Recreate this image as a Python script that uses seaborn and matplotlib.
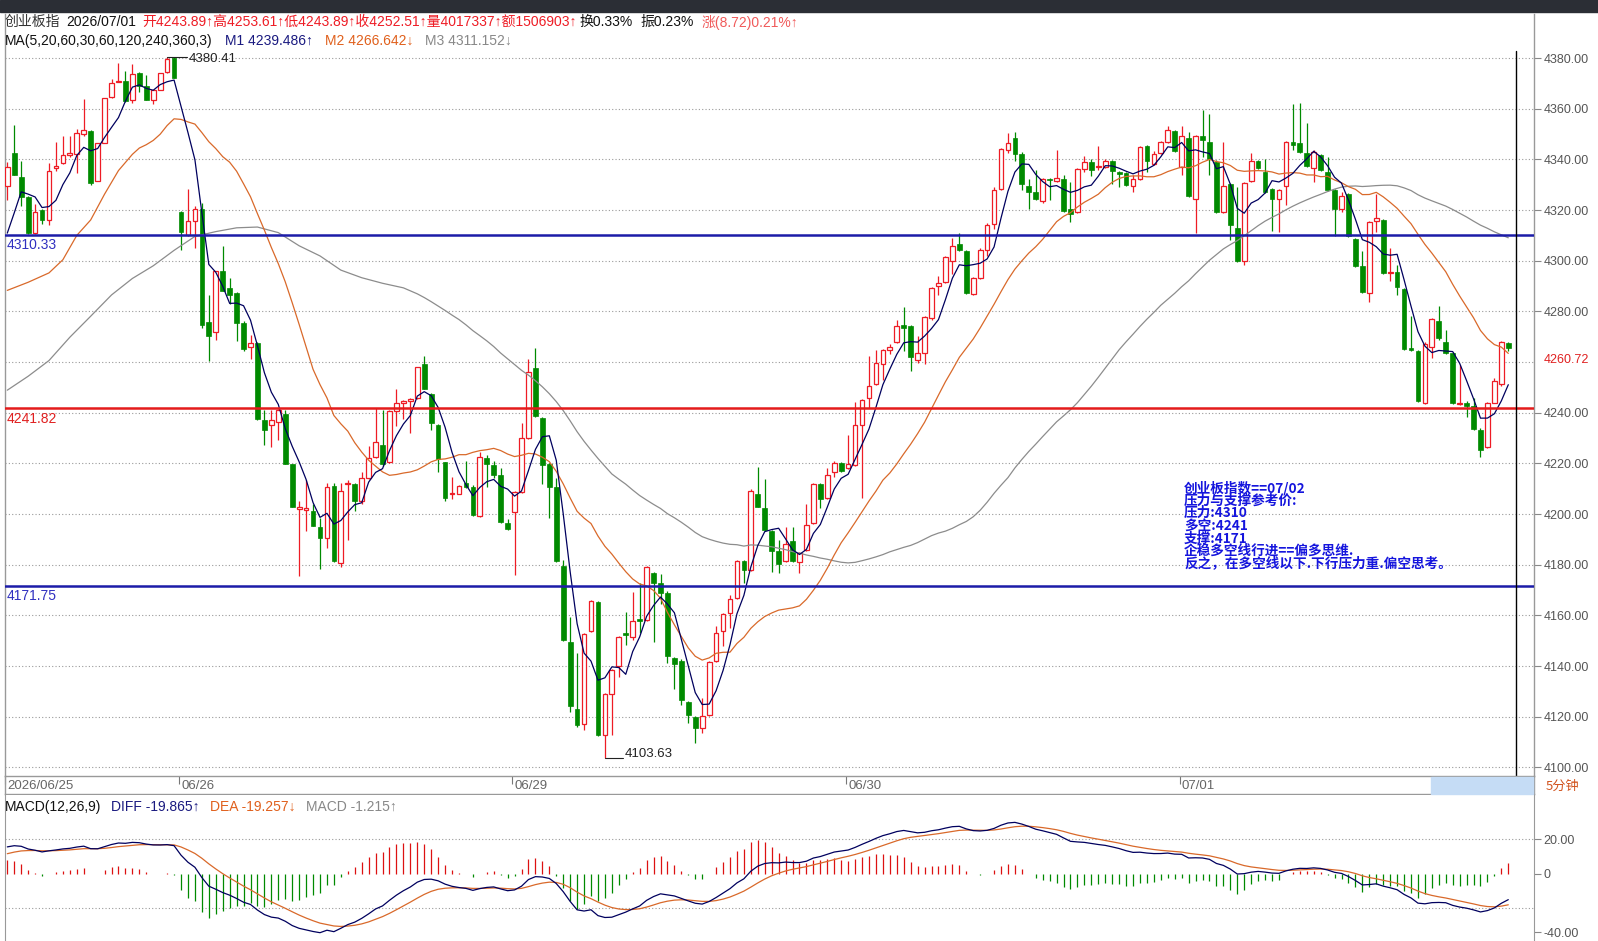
import numpy as np
import pandas as pd
import matplotlib
matplotlib.use("Agg")
import matplotlib.pyplot as plt
from matplotlib.patches import Rectangle
import seaborn as sns

sns.set_style("white")
plt.rcParams["font.family"] = ["Liberation Sans", "Noto Sans CJK SC", "DejaVu Sans"]
plt.rcParams["axes.unicode_minus"] = False

# ---- 5 minute bars, 06/25 (last 25 bars) .. 07/01 ----
opens = [
    # 06/25
    4329.4, 4342.4, 4333.1, 4325.0, 4310.9, 4320.2, 4316.1, 4336.7, 4338.5, 4341.7,
    4342.0, 4350.0, 4351.3, 4331.3, 4346.3, 4364.8, 4370.4, 4371.1, 4363.3, 4374.1,
    4368.9, 4363.3, 4367.4, 4374.4, 4380.0,
    # 06/26
    4319.3, 4310.0, 4315.6, 4320.4, 4275.7, 4271.7, 4296.1, 4289.3, 4287.4, 4275.4,
    4266.1, 4267.6, 4237.0, 4235.2, 4236.5, 4239.6, 4219.8, 4201.9, 4201.7, 4201.3,
    4194.8, 4190.7, 4211.1, 4180.6, 4212.0, 4212.0, 4205.0, 4214.3, 4222.6, 4227.2,
    4220.7, 4240.6, 4243.9, 4244.8, 4245.7, 4259.3, 4247.2, 4235.2, 4220.4, 4207.8,
    4208.1, 4212.4, 4210.6, 4199.4, 4222.0, 4219.3, 4215.6, 4196.3,
    # 06/29
    4200.9, 4208.7, 4230.0, 4257.8, 4237.8, 4219.8, 4210.6, 4179.6, 4149.4, 4123.0,
    4117.0, 4153.7, 4165.2, 4112.8, 4129.1, 4140.2, 4153.1, 4151.3, 4158.7, 4158.1,
    4176.9, 4172.6, 4168.9, 4143.0, 4142.0, 4125.9, 4119.8, 4115.6, 4120.7, 4142.0,
    4153.7, 4161.1, 4167.0, 4181.5, 4178.1, 4208.1, 4202.2, 4193.3, 4185.6, 4181.3,
    4189.3, 4180.9, 4185.9, 4196.3, 4211.9, 4206.3, 4216.7, 4220.2,
    # 06/30
    4218.0, 4219.3, 4235.2, 4245.7, 4251.3, 4259.3, 4264.8, 4268.0, 4274.8, 4274.1,
    4260.9, 4263.7, 4277.2, 4290.0, 4291.5, 4299.8, 4306.5, 4303.7, 4286.9, 4293.3,
    4304.4, 4314.6, 4328.5, 4343.9, 4348.5, 4342.0, 4329.6, 4327.2, 4323.5, 4332.4,
    4331.5, 4332.2, 4320.4, 4319.3, 4336.1, 4338.9, 4337.0, 4337.0, 4339.3, 4335.0,
    4334.6, 4329.6, 4332.2, 4345.2, 4338.3, 4342.4, 4347.0, 4351.3,
    # 07/01
    4337.0, 4348.5, 4324.4, 4349.1, 4347.0, 4338.9, 4319.3, 4330.4, 4312.8, 4300.0,
    4331.3, 4339.3, 4335.0, 4328.5, 4324.4, 4329.4, 4347.0, 4346.3, 4342.6, 4336.5,
    4341.7, 4335.0, 4328.1, 4320.4, 4326.3, 4308.7, 4298.1, 4287.4, 4315.6, 4316.1,
    4295.2, 4295.7, 4288.7, 4265.6, 4264.3, 4243.9, 4266.1, 4276.3, 4268.0, 4263.7,
    4243.3, 4243.9, 4242.6, 4233.3, 4226.3, 4243.89, 4251.3, 4267.4,
]
highs = [
    4338.9, 4353.5, 4339.3, 4325.4, 4322.2, 4320.4, 4338.7, 4346.7, 4349.1, 4349.1,
    4352.2, 4363.9, 4351.5, 4346.3, 4364.4, 4371.7, 4378.1, 4374.8, 4377.8, 4374.5,
    4373.5, 4367.4, 4374.1, 4380.41, 4380.3,
    4319.8, 4328.5, 4321.7, 4322.6, 4286.5, 4296.1, 4305.9, 4293.0, 4287.8, 4276.3,
    4270.7, 4268.0, 4241.1, 4241.1, 4241.5, 4241.1, 4219.8, 4205.0, 4213.3, 4204.1,
    4198.5, 4212.4, 4212.4, 4212.4, 4213.3, 4212.4, 4216.7, 4226.7, 4241.7, 4241.1,
    4241.1, 4249.4, 4245.2, 4245.7, 4258.1, 4262.4, 4247.6, 4235.6, 4220.7, 4214.8,
    4211.5, 4221.1, 4211.5, 4224.4, 4223.5, 4221.1, 4218.0, 4198.1,
    4209.3, 4235.9, 4261.1, 4265.6, 4238.3, 4220.2, 4214.3, 4181.9, 4159.3, 4145.0,
    4153.1, 4166.1, 4165.6, 4129.5, 4138.7, 4151.7, 4161.5, 4169.3, 4172.6, 4179.5,
    4177.3, 4176.3, 4169.8, 4143.4, 4142.6, 4126.3, 4120.2, 4127.2, 4141.9, 4155.9,
    4161.1, 4168.0, 4181.9, 4181.9, 4209.7, 4218.5, 4213.7, 4193.7, 4189.6, 4194.8,
    4194.8, 4185.0, 4204.1, 4212.3, 4212.3, 4218.0, 4221.1, 4220.6,
    4231.3, 4244.4, 4245.6, 4262.4, 4264.8, 4265.0, 4267.0, 4276.7, 4281.9, 4274.8,
    4270.4, 4278.1, 4289.7, 4293.9, 4301.7, 4309.1, 4310.9, 4304.4, 4293.7, 4305.0,
    4314.7, 4329.1, 4344.7, 4350.4, 4350.7, 4343.0, 4332.2, 4335.9, 4332.6, 4332.8,
    4343.9, 4333.7, 4330.9, 4336.5, 4341.5, 4340.2, 4345.2, 4340.2, 4339.7, 4335.4,
    4335.0, 4333.7, 4345.2, 4345.7, 4343.3, 4347.4, 4353.1, 4351.7,
    4353.1, 4350.7, 4349.5, 4359.6, 4357.8, 4339.6, 4346.7, 4330.8, 4329.1, 4331.0,
    4342.6, 4339.7, 4340.2, 4328.9, 4328.5, 4347.4, 4361.9, 4362.4, 4354.4, 4343.9,
    4342.1, 4341.1, 4328.5, 4327.2, 4326.7, 4309.1, 4303.7, 4315.6, 4326.3, 4316.5,
    4305.0, 4298.5, 4289.3, 4278.1, 4264.7, 4268.0, 4277.2, 4282.2, 4272.6, 4264.1,
    4258.7, 4244.8, 4245.7, 4234.1, 4244.4, 4253.61, 4268.5, 4268.0,
]
lows = [
    4323.9, 4333.7, 4321.7, 4310.6, 4310.6, 4314.6, 4314.3, 4335.6, 4338.2, 4341.1,
    4334.6, 4349.4, 4330.0, 4331.3, 4346.3, 4364.3, 4370.4, 4362.8, 4362.4, 4366.7,
    4363.3, 4361.9, 4367.4, 4374.0, 4372.2,
    4304.1, 4309.7, 4305.0, 4273.5, 4260.4, 4268.9, 4288.0, 4282.8, 4268.5, 4264.3,
    4261.1, 4237.0, 4227.2, 4226.3, 4229.1, 4219.8, 4202.6, 4175.4, 4193.3, 4195.4,
    4178.5, 4186.5, 4180.9, 4179.1, 4189.6, 4201.3, 4204.1, 4213.9, 4222.2, 4218.9,
    4220.2, 4234.6, 4237.4, 4231.9, 4245.4, 4249.4, 4233.3, 4216.7, 4205.0, 4205.9,
    4207.8, 4210.1, 4199.4, 4199.0, 4210.6, 4214.3, 4196.3, 4193.9,
    4175.9, 4208.3, 4229.6, 4238.3, 4211.9, 4198.5, 4180.9, 4150.0, 4121.7, 4116.1,
    4114.8, 4153.3, 4112.4, 4103.63, 4112.8, 4135.6, 4148.5, 4150.4, 4153.1, 4157.7,
    4149.4, 4164.3, 4141.1, 4130.9, 4124.8, 4117.6, 4109.6, 4113.7, 4120.3, 4141.6,
    4148.1, 4155.0, 4166.6, 4172.8, 4177.7, 4202.8, 4193.5, 4177.2, 4176.7, 4180.9,
    4180.9, 4176.9, 4185.5, 4196.1, 4202.2, 4205.9, 4214.8, 4216.6,
    4217.6, 4218.9, 4206.3, 4242.0, 4250.9, 4253.1, 4263.3, 4267.6, 4264.3, 4256.3,
    4259.6, 4259.1, 4276.8, 4286.5, 4291.1, 4294.8, 4304.0, 4287.0, 4286.5, 4292.9,
    4301.9, 4312.4, 4328.1, 4342.4, 4339.3, 4327.8, 4320.4, 4324.0, 4322.6, 4324.1,
    4330.9, 4319.3, 4315.2, 4318.9, 4335.0, 4333.3, 4335.9, 4336.6, 4330.4, 4329.1,
    4329.6, 4327.0, 4331.8, 4335.2, 4337.8, 4342.0, 4346.6, 4342.9,
    4333.7, 4325.0, 4310.9, 4341.1, 4333.7, 4318.9, 4318.9, 4308.1, 4299.4, 4298.5,
    4330.9, 4336.1, 4326.8, 4311.9, 4311.5, 4322.0, 4343.9, 4342.6, 4337.0, 4330.9,
    4335.5, 4327.7, 4309.6, 4319.3, 4309.2, 4297.7, 4287.4, 4283.7, 4311.5, 4294.8,
    4292.0, 4286.5, 4264.8, 4264.4, 4244.3, 4243.5, 4261.5, 4268.9, 4263.3, 4243.3,
    4243.0, 4238.3, 4233.3, 4222.6, 4225.9, 4243.89, 4250.7, 4264.3,
]
closes = [
    4337.0, 4333.7, 4325.0, 4310.9, 4319.3, 4316.1, 4335.6, 4337.4, 4341.9, 4342.4,
    4350.4, 4351.7, 4330.6, 4346.3, 4364.4, 4370.2, 4371.1, 4363.0, 4373.9, 4368.9,
    4363.3, 4367.4, 4374.1, 4379.6, 4372.2,
    4311.5, 4315.6, 4320.4, 4274.8, 4270.4, 4296.1, 4288.0, 4286.5, 4275.4, 4265.2,
    4267.6, 4237.4, 4233.3, 4237.0, 4241.1, 4219.8, 4202.6, 4202.6, 4202.2, 4195.4,
    4190.7, 4210.6, 4181.3, 4209.3, 4212.4, 4205.0, 4214.3, 4222.0, 4228.5, 4219.8,
    4240.6, 4243.9, 4244.8, 4245.4, 4258.1, 4249.4, 4235.9, 4221.7, 4206.3, 4208.5,
    4211.1, 4210.6, 4199.8, 4222.6, 4219.8, 4215.6, 4197.0, 4194.3,
    4208.7, 4230.0, 4255.9, 4238.7, 4219.3, 4210.6, 4181.5, 4150.4, 4124.4, 4116.7,
    4152.6, 4165.6, 4112.8, 4129.1, 4138.3, 4151.3, 4152.2, 4157.8, 4157.8, 4179.1,
    4172.6, 4168.9, 4143.9, 4140.7, 4126.7, 4120.7, 4115.6, 4120.4, 4141.5, 4153.1,
    4160.6, 4166.5, 4181.5, 4177.8, 4209.3, 4202.8, 4193.9, 4185.6, 4180.4, 4188.3,
    4181.3, 4184.6, 4195.7, 4211.9, 4205.9, 4215.6, 4220.2, 4217.0,
    4219.8, 4235.2, 4245.2, 4250.7, 4259.6, 4264.6, 4265.9, 4274.4, 4273.5, 4261.9,
    4263.7, 4277.8, 4289.3, 4291.1, 4301.3, 4305.9, 4304.4, 4287.4, 4293.3, 4304.1,
    4314.3, 4328.1, 4344.3, 4346.3, 4342.0, 4330.4, 4327.2, 4324.4, 4332.2, 4331.9,
    4332.6, 4319.8, 4318.5, 4336.1, 4338.9, 4335.9, 4337.4, 4339.3, 4335.6, 4334.4,
    4330.0, 4332.2, 4344.8, 4339.3, 4342.0, 4347.0, 4351.7, 4343.3,
    4349.4, 4325.4, 4349.1, 4347.6, 4340.2, 4319.3, 4329.6, 4314.3, 4300.0, 4330.6,
    4339.3, 4336.5, 4327.2, 4324.4, 4328.1, 4347.0, 4345.7, 4343.0, 4337.4, 4343.0,
    4335.9, 4328.1, 4320.4, 4325.7, 4309.6, 4298.1, 4287.8, 4315.2, 4317.0, 4295.2,
    4295.7, 4289.6, 4265.2, 4264.8, 4244.8, 4267.0, 4276.9, 4269.4, 4263.7, 4243.7,
    4243.9, 4242.6, 4233.7, 4225.4, 4243.79, 4252.51, 4268.0, 4265.6,
]

# MA values at the left edge (history before the first visible bar)
ma5_head_x = [0, 1, 2, 3]
ma5_head = [4310.9, 4318.9, 4327.2, 4326.3]
ma20_head_x = [0, 3, 6, 8, 10, 12, 14, 16, 18]
ma20_head = [4288.3, 4291.5, 4295.2, 4300.4, 4310.0, 4316.1, 4326.3, 4335.6, 4342.0]
ma60_head_x = [0, 3, 6, 9, 12, 15, 18, 21, 24, 27, 30, 33, 36, 39, 42, 45, 48, 51, 54, 57]
ma60_head = [4248.9, 4254.4, 4260.6, 4269.8, 4278.1, 4286.5, 4293.0, 4298.0, 4304.1, 4309.6,
             4311.5, 4313.0, 4313.3, 4311.1, 4305.9, 4301.9, 4296.3, 4293.3, 4291.1, 4289.3]
# EMA12, EMA26, DEA state before the first bar
macd_seed = [4306.0, 4292.0, 10.5]

day_labels = ["2026/06/25", "06/26", "06/29", "06/30", "07/01"]
day_starts = [0, 25, 73, 121, 169]
level_values = [4310.33, 4241.82, 4171.75]
level_labels = ["4310.33", "4241.82", "4171.75"]
note_lines = ["创业板指数==07/02", "压力与支撑参考价:", "压力:4310", "多空:4241",
              "支撑:4171", "企稳多空线行进==偏多思维.", "反之，在多空线以下.下行压力重.偏空思考。"]

n = len(closes)
assert len(opens) == n and len(highs) == n and len(lows) == n

RED = "#ee1c25"
GREEN = "#008a00"
NAVY = "#00005e"
ORANGE = "#d9692a"
GRAY = "#8c8c8c"
LBLUE = "#1c1ca8"

W, H = 1598, 941
def fx(px):
    return px / W
def fy(py):
    return 1 - py / H

fig = plt.figure(figsize=(W / 100, H / 100), dpi=100)
fig.patches.append(Rectangle((0, fy(12)), 1, 12 / H, transform=fig.transFigure,
                             color="#2b2e35", zorder=0))

XL = (-0.33, 219.7)
ax = fig.add_axes([fx(5), fy(776), fx(1534) - fx(5), (776 - 14) / H])
ax.set_xlim(*XL)
ax.set_ylim(4096.6, 4397.4)
ax.set_facecolor("white")
for s in ["top", "bottom"]:
    ax.spines[s].set_visible(False)
for s in ["left", "right"]:
    ax.spines[s].set_color("#999999")
    ax.spines[s].set_linewidth(1)

grid_vals = list(range(4100, 4381, 20))
for v in grid_vals:
    ax.axhline(v, color="#9a9a9a", lw=0.8, ls=(0, (1, 2)), zorder=0)
tick_vals = [v for v in grid_vals if v != 4260]
ax.set_xticks([])
ax.yaxis.tick_right()
ax.set_yticks(tick_vals)
ax.set_yticklabels([f"{v:.2f}" for v in tick_vals])
ax.tick_params(axis="y", length=5, width=0.8, color="#888888", labelsize=9,
               labelcolor="#555555", pad=2)
ax.annotate("4260.72", xy=(1, 4260.72), xycoords=("axes fraction", "data"),
            xytext=(7, 0), textcoords="offset points", va="center", ha="left",
            color="#e02020", fontsize=9, annotation_clip=False)

# candles
o = np.array(opens); c = np.array(closes); h = np.array(highs); l = np.array(lows)
idx = np.arange(n)
up = c >= o
bottom = np.minimum(o, c)
height = np.maximum(np.abs(c - o), 0.35)
ax.vlines(idx, l, h, colors=np.where(up, RED, GREEN), lw=0.9, zorder=2)
ax.bar(idx[up], height[up], bottom=bottom[up], width=0.68, facecolor="white",
       edgecolor=RED, linewidth=0.9, zorder=3)
ax.bar(idx[~up], height[~up], bottom=bottom[~up], width=0.68, facecolor=GREEN,
       edgecolor=GREEN, linewidth=0.5, zorder=3)

# moving averages
cs = pd.Series(closes)
def ma_line(head_x, head_y, window):
    m = cs.rolling(window).mean()
    xs = list(head_x) + list(range(window - 1, n))
    ys = list(head_y) + m.iloc[window - 1:].tolist()
    return xs, ys

for hx, hy, w, col in [(ma60_head_x, ma60_head, 60, GRAY),
                       (ma20_head_x, ma20_head, 20, ORANGE),
                       (ma5_head_x, ma5_head, 5, NAVY)]:
    xs, ys = ma_line(hx, hy, w)
    sns.lineplot(x=xs, y=ys, ax=ax, color=col, linewidth=0.9, zorder=4)

# support / resistance levels
for v, lab in zip(level_values, level_labels):
    col = "#e41b1b" if v == 4241.82 else LBLUE
    tcol = "#e02020" if v == 4241.82 else "#3030c0"
    ax.axhline(v, color=col, lw=1.8, zorder=5)
    ax.annotate(lab, xy=(0, v), xycoords=("axes fraction", "data"), xytext=(1, -2.5),
                textcoords="offset points", va="top", ha="left", color=tcol, fontsize=10)

# high / low markers
hi_i = int(np.argmax(h)); lo_i = int(np.argmin(l))
ax.plot([hi_i, hi_i + 2.9], [h[hi_i], h[hi_i]], color="#222222", lw=0.8, zorder=5)
ax.annotate(f"{h[hi_i]:.2f}", xy=(hi_i + 3.1, h[hi_i]), xytext=(0, -1.5),
            textcoords="offset points", va="center", ha="left", fontsize=9.5,
            color="#222222")
ax.plot([lo_i, lo_i + 2.6], [l[lo_i], l[lo_i]], color="#222222", lw=0.8, zorder=5)
ax.annotate(f"{l[lo_i]:.2f}", xy=(lo_i + 2.9, l[lo_i]), xytext=(0, 3),
            textcoords="offset points", va="center", ha="left", fontsize=9.5, color="#222222")

# cursor line
ax.axvline(217.1, ymin=0, ymax=0.951, color="black", lw=1, zorder=6)

# note text
for k, line in enumerate(note_lines):
    fig.text(fx(1184), fy(488 + 12.6 * k), line, color="#1515dd", fontsize=9.8,
             fontweight="bold", va="center", ha="left",
             family=["Noto Sans CJK SC", "DejaVu Sans"])

# header rows
def chain(host, x_px, y_px, parts, size):
    prev = None
    for text, color, gap in parts:
        if prev is None:
            prev = host.annotate(text, xy=(fx(x_px), fy(y_px)), xycoords="figure fraction",
                                 va="center", ha="left", color=color, fontsize=size,
                                 annotation_clip=False)
        else:
            prev = host.annotate(text, xy=(1, 0.5), xycoords=prev, xytext=(gap * 0.72, 0),
                                 textcoords="offset points", va="center", ha="left",
                                 color=color, fontsize=size, annotation_clip=False)

chain(ax, 5, 22, [("创业板指", "#333333", 0), ("2026/07/01", "#111111", 6),
                  ("开4243.89↑高4253.61↑低4243.89↑收4252.51↑量4017337↑额1506903↑", RED, 6),
                  ("换0.33%", "#111111", 3), ("振0.23%", "#111111", 7),
                  ("涨(8.72)0.21%↑", "#f05a5a", 8)], 10)
chain(ax, 5, 41, [("MA(5,20,60,30,60,120,240,360,3)", "#111111", 0),
                  ("M1 4239.486↑", "#1a1a80", 12), ("M2 4266.642↓", "#e0601c", 12),
                  ("M3 4311.152↓", "#888888", 12)], 10)

# date strip
axd = fig.add_axes([fx(5), fy(794), fx(1534) - fx(5), (794 - 776) / H])
axd.set_xlim(*XL)
axd.set_ylim(0, 1)
axd.set_yticks([])
for s in axd.spines.values():
    s.set_color("#999999")
    s.set_linewidth(1)
tick_x = [d - 0.3 for d in day_starts]
axd.xaxis.tick_top()
axd.set_xticks(tick_x)
axd.set_xticklabels([])
axd.tick_params(axis="x", direction="in", length=6, width=0.8, color="#777777")
for tx, lab in zip(tick_x, day_labels):
    axd.text(tx + 0.3, 0.45, lab, va="center", ha="left", fontsize=9.5, color="#666666")
fig.patches.append(Rectangle((fx(1431), fy(794)), (1533 - 1431) / W, 17 / H,
                             transform=fig.transFigure, color="#c5dcf5", zorder=3))
fig.text(fx(1546), fy(786), "5分钟", color="#d2541e", fontsize=9.5, va="center", ha="left",
         family=["Noto Sans CJK SC", "DejaVu Sans"])

# MACD
e12, e26, dea = macd_seed
diff_v, dea_v = [], []
for price in closes:
    e12 = (2 * price + 11 * e12) / 13
    e26 = (2 * price + 25 * e26) / 27
    d = e12 - e26
    dea = (2 * d + 8 * dea) / 10
    diff_v.append(d)
    dea_v.append(dea)
diff_v = np.array(diff_v); dea_v = np.array(dea_v)
hist = 2 * (diff_v - dea_v)

axm = fig.add_axes([fx(5), 0, fx(1534) - fx(5), (941 - 795) / H])
axm.set_xlim(*XL)
axm.set_ylim(-39.1, 45.5)
for s in ["top", "bottom"]:
    axm.spines[s].set_visible(False)
for s in ["left", "right"]:
    axm.spines[s].set_color("#999999")
for v in [20, -20]:
    axm.axhline(v, color="#9a9a9a", lw=0.8, ls=(0, (1, 2)), zorder=0)
axm.vlines(idx, 0, hist, colors=np.where(hist >= 0, "#dd1111", GREEN), lw=0.9)
sns.lineplot(x=idx, y=dea_v, ax=axm, color=ORANGE, linewidth=0.9)
sns.lineplot(x=idx, y=diff_v, ax=axm, color=NAVY, linewidth=0.9)
axm.set_xticks([])
axm.yaxis.tick_right()
axm.set_yticks([20, 0, -34])
axm.set_yticklabels(["20.00", "0", "-40.00"])
axm.tick_params(axis="y", length=5, width=0.8, color="#888888", labelsize=9,
                labelcolor="#555555", pad=2)
axm.set_ylabel("")

chain(axm, 5, 807, [("MACD(12,26,9)", "#111111", 0), ("DIFF -19.865↑", "#1a1a80", 10),
                    ("DEA -19.257↓", "#e0601c", 10), ("MACD -1.215↑", "#888888", 10)], 10)

fig.savefig("out.png", dpi=100)
